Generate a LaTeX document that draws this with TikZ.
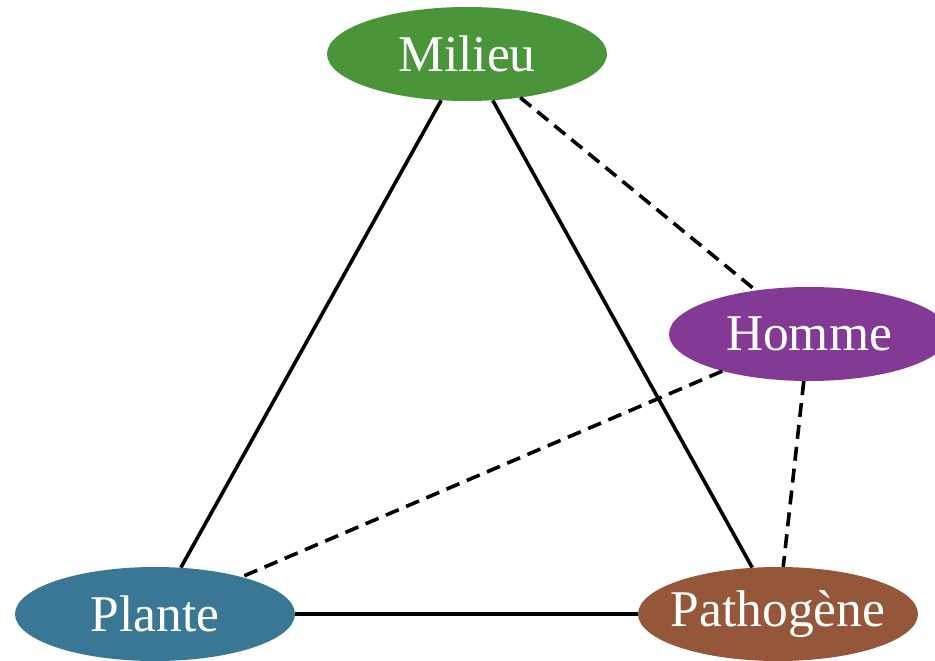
\documentclass[tikz,border=0pt]{standalone}
\usepackage{fontspec}
\setmainfont{Liberation Serif}
\usetikzlibrary{shapes.geometric}
\definecolor{milieugreen}{HTML}{4A943A}
\definecolor{hommepurple}{HTML}{823A94}
\definecolor{planteblue}{HTML}{3A7794}
\definecolor{pathobrown}{HTML}{94573A}

\begin{document}
\begin{tikzpicture}[%
  x=1pt, y=-1pt,
  vertex/.style={ellipse, draw=none, inner sep=0pt,
    minimum width=280pt, minimum height=94pt,
    font=\fontsize{51.5}{60}\selectfont, text=white},
  link/.style={line width=3.6pt},
  weaklink/.style={line width=3.6pt, dash pattern=on 14pt off 8pt}]
\useasboundingbox (0,0) rectangle (935,661);
\node[vertex, fill=milieugreen] (milieu) at (467,54) {\makebox[0pt]{Milieu}};
\node[vertex, fill=hommepurple] (homme) at (809,334) {\makebox[0pt]{Homme}};
\node[vertex, fill=planteblue] (plante) at (155,614) {\makebox[0pt]{Plante}};
\node[vertex, fill=pathobrown] (pathogene) at (778,614) {\makebox[0pt]{Pathogène}};
% solid edges
\draw[link] (milieu) -- (plante);
\draw[link] (milieu) -- (pathogene);
\draw[link] (plante) -- (pathogene);
% dashed edges
\draw[weaklink] (milieu) -- (homme);
\draw[weaklink] (homme) -- (plante);
\draw[weaklink] (homme) -- (pathogene);
\end{tikzpicture}
\end{document}
